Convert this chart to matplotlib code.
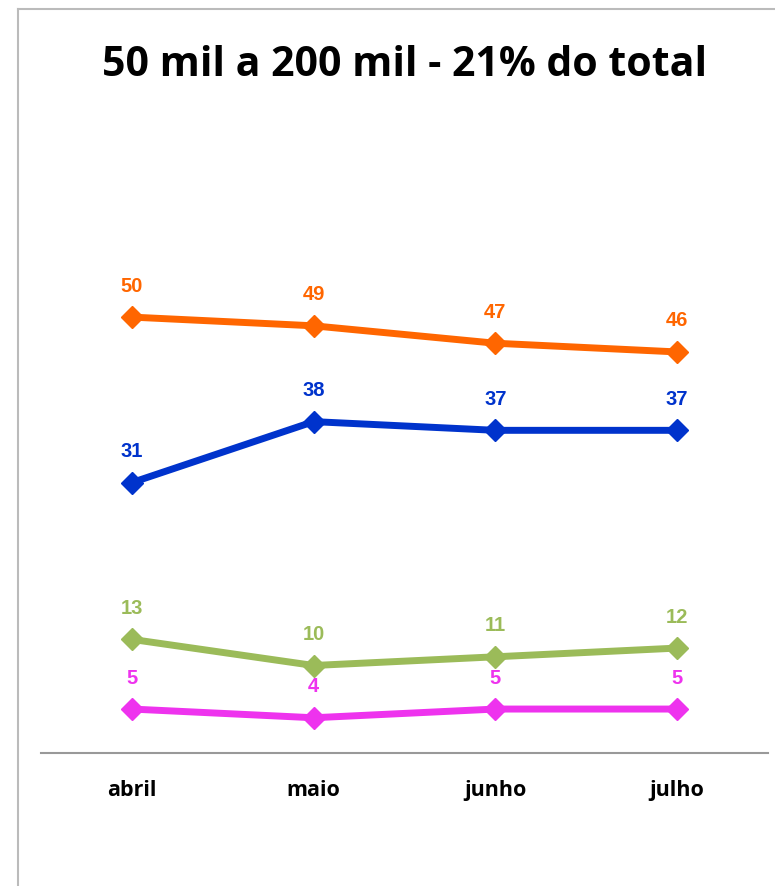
import matplotlib
matplotlib.use("Agg")
import matplotlib.pyplot as plt
from matplotlib.lines import Line2D

# Data
months = ["abril", "maio", "junho", "julho"]
serie_laranja = [50, 49, 47, 46]
serie_azul = [31, 38, 37, 37]
serie_verde = [13, 10, 11, 12]
serie_rosa = [5, 4, 5, 5]

series = [
    (serie_laranja, "#FF6600"),
    (serie_azul, "#0033CC"),
    (serie_verde, "#9BBB59"),
    (serie_rosa, "#EE33EE"),
]

W, H = 775, 887
fig = plt.figure(figsize=(W / 100, H / 100), dpi=100)

# chart frame (gray border on left and top)
fig.add_artist(Line2D([17.5 / W, 17.5 / W], [0, 1 - 10 / H], color="#BBBBBB", lw=1.5,
                      transform=fig.transFigure))
fig.add_artist(Line2D([17.5 / W, 1], [1 - 10 / H, 1 - 10 / H], color="#BBBBBB", lw=1.5,
                      transform=fig.transFigure))

ax = fig.add_axes([41 / W, (H - 753.6) / H, (768 - 41) / W, (753.6 - 231) / H])
x = list(range(len(months)))

for vals, color in series:
    ax.plot(x, vals, color=color, lw=5, marker="D", markersize=11,
            solid_capstyle="butt", zorder=3)
    for xi, v in zip(x, vals):
        ax.annotate(str(v), (xi, v), xytext=(0, 23), textcoords="offset points",
                    ha="center", va="center", color=color, fontsize=14.5,
                    fontweight="bold", family="Liberation Sans")

ax.set_xlim(-0.5, len(months) - 0.5)
ax.set_ylim(0, 60)
ax.set_yticks([])
ax.set_xticks(x)
ax.set_xticklabels(months, fontsize=15.5, fontweight="bold", family="Open Sans")
ax.tick_params(axis="x", length=0, pad=19)
for side in ["top", "right", "left"]:
    ax.spines[side].set_visible(False)
ax.spines["bottom"].set_color("#999999")
ax.spines["bottom"].set_linewidth(1.5)

fig.text(405 / W, 1 - 65 / H, "50 mil a 200 mil - 21% do total", ha="center", va="center",
         fontsize=29.5, fontweight="bold", family="Open Sans")

fig.savefig("out.png", dpi=100)
